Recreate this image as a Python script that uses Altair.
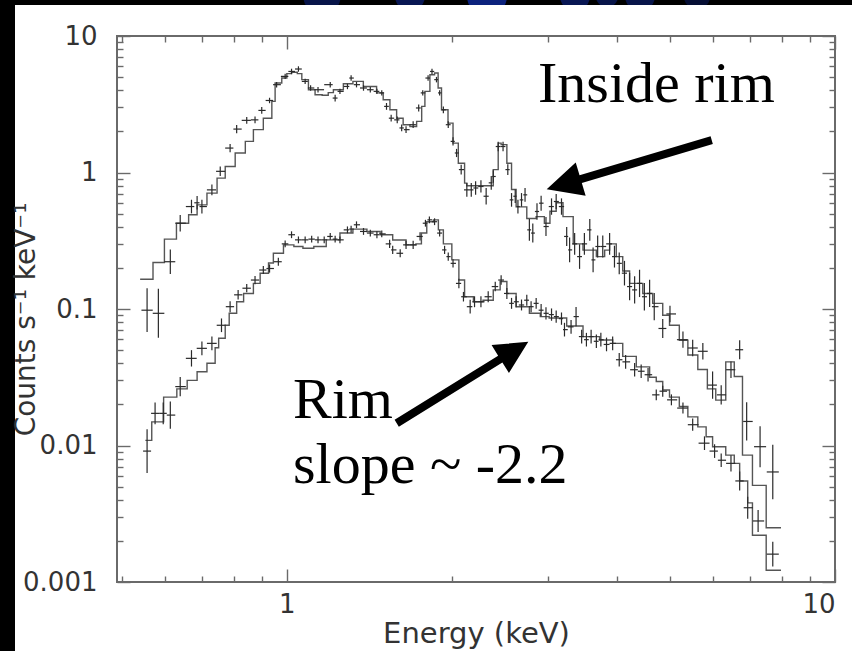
import altair as alt
import pandas as pd
import numpy as np

# ---------------- data ----------------
# Model (folded) step curves: left bin edge energy (keV) and level (counts/s/keV)
inside_model_E = [0.540, 0.570, 0.598, 0.629, 0.662, 0.686, 0.715, 0.746, 0.772, 0.805,
                  0.840, 0.869, 0.906, 0.939, 0.952, 0.979, 1.00, 1.02, 1.045, 1.065,
                  1.095, 1.126, 1.16, 1.19, 1.216, 1.268, 1.32, 1.379, 1.458, 1.499,
                  1.542, 1.586, 1.63, 1.677, 1.725, 1.762, 1.786, 1.824, 1.86, 1.888,
                  1.915, 1.968, 2.01, 2.055, 2.11, 2.13, 2.34, 2.38, 2.43, 2.46,
                  2.52, 2.57, 2.62, 2.74, 2.85, 2.95, 3.02, 3.10, 3.19, 3.33,
                  3.47, 3.67, 3.80, 3.88, 3.99, 4.10, 4.22, 4.46, 4.65, 4.85,
                  4.99, 5.20, 5.39, 5.62, 5.85, 6.06, 6.32, 6.55, 6.78, 7.07,
                  7.49, 7.97]
inside_model_v = [0.165, 0.219, 0.325, 0.425, 0.49, 0.579, 0.706, 0.909, 1.106, 1.39,
                  1.69, 2.06, 2.50, 3.32, 4.52, 4.92, 5.30, 5.42, 5.30, 4.79,
                  4.04, 3.71, 3.68, 3.85, 4.04, 4.47, 4.65, 4.27, 3.83, 3.41,
                  2.88, 2.50, 2.24, 2.17, 2.37, 3.05, 3.93, 5.20, 5.36, 4.16,
                  2.88, 2.30, 1.64, 1.17, 0.836, 0.80, 0.80, 1.05, 1.64, 1.60,
                  1.17, 0.75, 0.56, 0.46, 0.475, 0.425, 0.52, 0.60, 0.475, 0.30,
                  0.27, 0.242, 0.27, 0.30, 0.242, 0.19, 0.154, 0.13, 0.11, 0.09,
                  0.076, 0.059, 0.046, 0.036, 0.026, 0.0215, 0.041, 0.032, 0.0085, 0.0051,
                  0.0025, 0.0025]

rim_model_E = [0.552, 0.567, 0.596, 0.630, 0.658, 0.686, 0.715, 0.740, 0.751, 0.772,
               0.785, 0.81, 0.834, 0.869, 0.894, 0.926, 0.945, 0.986, 1.03, 1.07,
               1.12, 1.18, 1.25, 1.32, 1.40, 1.48, 1.56, 1.65, 1.72, 1.76,
               1.80, 1.85, 1.89, 1.93, 2.00, 2.06, 2.11, 2.19, 2.28, 2.38,
               2.45, 2.52, 2.62, 2.77, 2.90, 3.01, 3.24, 3.47, 3.72, 3.93,
               4.10, 4.34, 4.59, 4.72, 4.85, 4.99, 5.20, 5.39, 5.62, 5.82,
               5.98, 6.32, 6.55, 6.70, 6.93, 7.07, 7.49, 7.97]
rim_model_v = [0.0109, 0.0149, 0.0226, 0.026, 0.030, 0.0347, 0.040, 0.052, 0.061, 0.076,
               0.093, 0.113, 0.13, 0.154, 0.183, 0.217, 0.256, 0.295, 0.287, 0.279,
               0.287, 0.321, 0.36, 0.385, 0.37, 0.35, 0.32, 0.295, 0.30, 0.36,
               0.436, 0.45, 0.38, 0.30, 0.229, 0.163, 0.123, 0.113, 0.116, 0.138,
               0.159, 0.13, 0.104, 0.093, 0.088, 0.086, 0.075, 0.0628, 0.0593, 0.056,
               0.045, 0.0377, 0.0316, 0.0294, 0.0255, 0.0226, 0.0193, 0.0162, 0.0137, 0.0116,
               0.0098, 0.0085, 0.0074, 0.0055, 0.0038, 0.0022, 0.00122, 0.00122]

# Data points: energy, rate, half error in dex
inside_E = [0.556, 0.583, 0.613, 0.639, 0.670, 0.686, 0.700, 0.730, 0.756, 0.788,
            0.810, 0.845, 0.875, 0.900, 0.930, 0.958, 0.993, 1.02, 1.05, 1.08,
            1.105, 1.14, 1.20, 1.225, 1.25, 1.29, 1.31, 1.34, 1.38, 1.42,
            1.46, 1.49, 1.52, 1.55, 1.59, 1.62, 1.65, 1.70, 1.74, 1.77,
            1.81, 1.84, 1.875, 1.90, 1.93, 1.97, 2.01, 2.04, 2.08, 2.13,
            2.17, 2.21, 2.26, 2.31, 2.36, 2.38, 2.43, 2.48, 2.53, 2.57,
            2.61, 2.64, 2.68, 2.72, 2.77, 2.81, 2.86, 2.91, 2.97, 3.04,
            3.10, 3.17, 3.24, 3.28, 3.35, 3.42, 3.49, 3.57, 3.62, 3.69,
            3.77, 3.88, 3.96, 4.04, 4.13, 4.22, 4.31, 4.40, 4.49, 4.59,
            4.68, 4.85, 5.00, 5.28, 5.50, 5.74, 5.98, 6.20, 6.46, 6.70,
            6.90, 7.30, 7.70]
inside_v = [0.098, 0.093, 0.222, 0.425, 0.563, 0.60, 0.563, 0.746, 1.02, 1.51,
            2.08, 2.41, 2.43, 2.85, 3.37, 4.40, 5.06, 5.50, 5.73, 4.65,
            4.16, 4.04, 4.40, 3.51, 3.93, 4.27, 4.92, 4.40, 4.16, 4.04,
            3.93, 3.83, 3.05, 2.50, 2.43, 2.12, 2.06, 2.24, 2.97, 3.83,
            4.92, 5.50, 4.79, 3.83, 2.88, 2.24, 1.69, 1.39, 1.05, 0.746,
            0.746, 0.77, 0.79, 0.67, 0.84, 0.935, 1.55, 1.55, 1.05, 0.63,
            0.67, 0.563, 0.63, 0.686, 0.38, 0.36, 0.518, 0.596, 0.402, 0.563,
            0.613, 0.563, 0.34, 0.271, 0.30, 0.242, 0.30, 0.38, 0.229, 0.287,
            0.287, 0.30, 0.242, 0.216, 0.183, 0.146, 0.138, 0.154, 0.123, 0.13,
            0.104, 0.072, 0.092, 0.0596, 0.0518, 0.049, 0.0277, 0.0235, 0.0359, 0.0503,
            0.015, 0.0098, 0.0064]
inside_err = [0.16, 0.18, 0.09, 0.06, 0.05, 0.05, 0.05, 0.04, 0.035, 0.03,
              0.03, 0.025, 0.025, 0.025, 0.02, 0.02, 0.02, 0.02, 0.02, 0.02,
              0.02, 0.02, 0.02, 0.025, 0.02, 0.02, 0.02, 0.02, 0.02, 0.02,
              0.02, 0.02, 0.025, 0.025, 0.025, 0.025, 0.025, 0.025, 0.025, 0.02,
              0.02, 0.02, 0.02, 0.02, 0.025, 0.025, 0.03, 0.03, 0.035, 0.05,
              0.05, 0.05, 0.045, 0.06, 0.05, 0.045, 0.035, 0.035, 0.04, 0.05,
              0.05, 0.05, 0.05, 0.05, 0.08, 0.07, 0.06, 0.055, 0.07, 0.06,
              0.055, 0.06, 0.07, 0.09, 0.08, 0.09, 0.08, 0.08, 0.09, 0.08,
              0.08, 0.08, 0.08, 0.08, 0.09, 0.10, 0.10, 0.10, 0.10, 0.10,
              0.10, 0.07, 0.06, 0.06, 0.06, 0.06, 0.10, 0.07, 0.06, 0.07,
              0.14, 0.15, 0.20]

rim_E = [0.556, 0.575, 0.595, 0.613, 0.639, 0.670, 0.700, 0.730, 0.760, 0.788,
         0.815, 0.845, 0.875, 0.906, 0.930, 0.965, 0.993, 1.02, 1.05, 1.08,
         1.11, 1.14, 1.17, 1.20, 1.225, 1.25, 1.29, 1.31, 1.34, 1.38,
         1.42, 1.46, 1.49, 1.54, 1.56, 1.61, 1.65, 1.70, 1.75, 1.79,
         1.82, 1.86, 1.90, 1.94, 1.97, 2.01, 2.06, 2.10, 2.16, 2.20,
         2.26, 2.33, 2.40, 2.46, 2.52, 2.57, 2.62, 2.68, 2.74, 2.79,
         2.85, 2.91, 2.97, 3.04, 3.10, 3.17, 3.21, 3.30, 3.37, 3.45,
         3.52, 3.59, 3.67, 3.74, 3.83, 3.93, 4.04, 4.15, 4.31, 4.43,
         4.56, 4.72, 4.85, 5.03, 5.28, 5.50, 5.78, 6.03, 6.20, 6.46,
         6.70, 6.93, 7.24, 7.70]
rim_v = [0.0091, 0.0172, 0.0172, 0.0167, 0.027, 0.0435, 0.0515, 0.056, 0.076, 0.104,
         0.127, 0.142, 0.163, 0.193, 0.198, 0.222, 0.30, 0.35, 0.321, 0.321,
         0.325, 0.321, 0.321, 0.34, 0.325, 0.321, 0.38, 0.385, 0.414, 0.37,
         0.36, 0.35, 0.355, 0.30, 0.271, 0.256, 0.295, 0.295, 0.34, 0.425,
         0.45, 0.436, 0.36, 0.271, 0.242, 0.216, 0.154, 0.123, 0.104, 0.113,
         0.113, 0.123, 0.146, 0.163, 0.13, 0.11, 0.113, 0.107, 0.116, 0.104,
         0.11, 0.098, 0.093, 0.091, 0.088, 0.085, 0.0706, 0.074, 0.088, 0.0628,
         0.0596, 0.0628, 0.058, 0.0596, 0.055, 0.056, 0.0425, 0.041, 0.0359, 0.035,
         0.033, 0.0235, 0.025, 0.0216, 0.0188, 0.0142, 0.0104, 0.0091, 0.0078, 0.0074,
         0.0055, 0.0035, 0.0028, 0.0016]
rim_err = [0.16, 0.08, 0.08, 0.10, 0.07, 0.06, 0.05, 0.05, 0.05, 0.04,
           0.035, 0.03, 0.03, 0.03, 0.03, 0.03, 0.025, 0.025, 0.025, 0.025,
           0.025, 0.025, 0.025, 0.025, 0.025, 0.025, 0.025, 0.025, 0.025, 0.025,
           0.025, 0.025, 0.025, 0.03, 0.03, 0.03, 0.03, 0.03, 0.03, 0.025,
           0.025, 0.025, 0.025, 0.03, 0.03, 0.03, 0.035, 0.035, 0.05, 0.04,
           0.04, 0.04, 0.035, 0.035, 0.04, 0.04, 0.04, 0.04, 0.04, 0.04,
           0.04, 0.045, 0.045, 0.045, 0.045, 0.045, 0.05, 0.05, 0.07, 0.05,
           0.05, 0.05, 0.05, 0.05, 0.05, 0.05, 0.05, 0.05, 0.05, 0.05,
           0.05, 0.04, 0.04, 0.04, 0.04, 0.045, 0.05, 0.05, 0.05, 0.06,
           0.07, 0.08, 0.08, 0.09]

x_major = [1, 10]
x_minor = [0.5, 0.6, 0.7, 0.8, 0.9, 2, 3, 4, 5, 6, 7, 8, 9]
y_major = [0.001, 0.01, 0.1, 1, 10]
y_minor = [m * d for d in [0.001, 0.01, 0.1, 1] for m in range(2, 10)]

# ---------------- tables ----------------
model_df = pd.concat([
    pd.DataFrame({"E": inside_model_E, "val": inside_model_v, "series": "Inside rim"}),
    pd.DataFrame({"E": rim_model_E, "val": rim_model_v, "series": "Rim"}),
], ignore_index=True)


def points_table(E, v, err, name):
    E = np.asarray(E, float)
    v = np.asarray(v, float)
    err = np.asarray(err, float)
    lg = np.log10(E)
    cap = 0.011
    left = np.empty_like(lg)
    right = np.empty_like(lg)
    left[1:] = np.minimum((lg[1:] - lg[:-1]) / 2, cap)
    right[:-1] = np.minimum((lg[1:] - lg[:-1]) / 2, cap)
    left[0] = min(right[0], cap)
    right[-1] = min(left[-1], cap)
    return pd.DataFrame({
        "E": E, "val": v,
        "ylo": v / 10 ** err, "yhi": v * 10 ** err,
        "xlo": 10 ** (lg - left), "xhi": 10 ** (lg + right),
        "series": name,
    })


pts_df = pd.concat([points_table(inside_E, inside_v, inside_err, "Inside rim"),
                    points_table(rim_E, rim_v, rim_err, "Rim")], ignore_index=True)

# ---------------- chart ----------------
W, H = 718, 546
FRAME = "#6a6a6a"
LABEL = "#333333"
FONT = "DejaVu Sans"
XS = alt.Scale(type="log", domain=[0.49, 10], nice=False)
YS = alt.Scale(type="log", domain=[0.001, 10], nice=False)
one = alt.Data(values=[{"a": 1}])


def tick_axis(orient, values, size):
    return alt.Axis(orient=orient, values=values, tickSize=size, offset=-size,
                    labels=False, domain=False, grid=False, title=None,
                    tickColor=FRAME, tickWidth=1.4, zindex=2)


def axis_layer(xa, ya):
    return alt.Chart(model_df).mark_point(opacity=0).encode(
        x=alt.X("E:Q", scale=XS, axis=xa),
        y=alt.Y("val:Q", scale=YS, axis=ya),
    )


layers = []
# dim blue glow in the slide's top band
for gx, gsize, gop in [(205, 1400, 0.35), (293, 900, 0.4), (370, 1600, 0.6),
                       (458, 900, 0.4), (490, 500, 0.35), (523, 900, 0.35), (580, 700, 0.25)]:
    layers.append(alt.Chart(one).mark_circle(color="#1438d0", opacity=gop, size=gsize).encode(
        x=alt.value(gx), y=alt.value(-40)))

# white slide panel
layers.append(alt.Chart(one).mark_rect(color="white").encode(
    x=alt.value(-102), x2=alt.value(W + 17), y=alt.value(-31), y2=alt.value(H + 69)))

# axes (labels + inward ticks on four sides)
layers.append(axis_layer(
    alt.Axis(orient="bottom", values=x_major, format="~g", ticks=False, tickSize=0, domain=False,
             grid=False, labelPadding=9, labelFont=FONT, labelFontSize=26, labelColor=LABEL,
             title="Energy (keV)", titleFont=FONT, titleFontSize=29, titleFontWeight="normal",
             titleColor=LABEL, titleX=359, titleY=60, titleAlign="center",
             titleBaseline="alphabetic", zindex=2),
    alt.Axis(orient="left", values=y_major, format="~g", ticks=False, tickSize=0, domain=False,
             grid=False, labelPadding=20, labelFont=FONT, labelFontSize=26, labelColor=LABEL,
             title="Counts s⁻¹ keV⁻¹", titleFont=FONT, titleFontSize=28,
             titleFontWeight="normal", titleColor=LABEL, titleX=-83, titleY=283,
             titleAngle=270, titleAlign="center", titleBaseline="alphabetic", zindex=2)))
layers.append(axis_layer(tick_axis("bottom", x_major, 13), tick_axis("left", y_major, 13)))
layers.append(axis_layer(tick_axis("bottom", x_minor, 6), tick_axis("left", y_minor, 6)))
layers.append(axis_layer(tick_axis("top", x_major, 13), tick_axis("right", y_major, 13)))
layers.append(axis_layer(tick_axis("top", x_minor, 6), tick_axis("right", y_minor, 6)))

# model step curves
layers.append(alt.Chart(model_df).mark_line(interpolate="step-after", color="#555555",
                                            strokeWidth=1.4).encode(
    x=alt.X("E:Q", scale=XS, axis=None),
    y=alt.Y("val:Q", scale=YS, axis=None),
    detail="series:N"))

# data crosses
layers.append(alt.Chart(pts_df).mark_rule(color="#2a2a2a", strokeWidth=1.2).encode(
    x=alt.X("E:Q", scale=XS, axis=None),
    y=alt.Y("ylo:Q", scale=YS, axis=None), y2="yhi:Q"))
layers.append(alt.Chart(pts_df).mark_rule(color="#2a2a2a", strokeWidth=1.2).encode(
    x=alt.X("xlo:Q", scale=XS, axis=None), x2="xhi:Q",
    y=alt.Y("val:Q", scale=YS, axis=None)))

# frame
layers.append(alt.Chart(one).mark_rect(fillOpacity=0, stroke=FRAME, strokeWidth=2).encode(
    x=alt.value(0), x2=alt.value(W), y=alt.value(0), y2=alt.value(H)))

# annotations
for txt, tx, ty in [("Inside rim", 421, 66), ("Rim", 176, 382), ("slope ~ -2.2", 176, 447)]:
    layers.append(alt.Chart(one).mark_text(text=txt, font="Liberation Serif", fontSize=58,
                                           align="left", baseline="alphabetic",
                                           color="black").encode(
        x=alt.value(tx), y=alt.value(ty)))

ARROW1 = "M0,-1L0.202,-0.588L0.046,-0.588L0.046,1L-0.046,1L-0.046,-0.588L-0.202,-0.588Z"
ARROW2 = "M0,-1L0.213,-0.574L0.052,-0.574L0.052,1L-0.052,1L-0.052,-0.574L-0.213,-0.574Z"
layers.append(alt.Chart(one).mark_point(shape=ARROW1, filled=True, color="black", opacity=1,
                                        size=29653, angle=253.4, strokeWidth=0).encode(
    x=alt.value(512.2), y=alt.value(128.7)))
layers.append(alt.Chart(one).mark_point(shape=ARROW2, filled=True, color="black", opacity=1,
                                        size=23963, angle=58.2, strokeWidth=0).encode(
    x=alt.value(345.5), y=alt.value(346.5)))

chart = alt.layer(*layers).resolve_axis(x="independent", y="independent").properties(
    width=W, height=H,
    autosize=alt.AutoSizeParams(type="none"),
    padding={"left": 117, "top": 36, "right": 17, "bottom": 69},
    background="black",
).configure_view(stroke=None)

chart.save("out.html", embed_options={"renderer": "svg", "actions": False})
